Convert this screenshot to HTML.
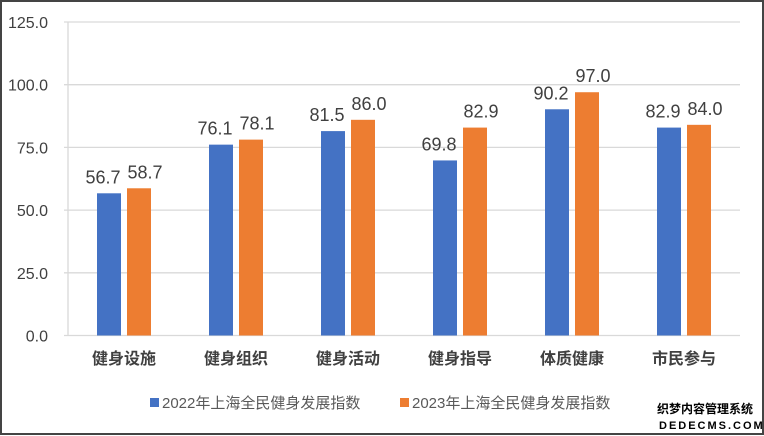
<!DOCTYPE html>
<html><head><meta charset="utf-8"><style>
body{margin:0;background:#fff;}
svg{display:block;font-family:"Liberation Sans","Noto Sans CJK SC",sans-serif;}
</style></head><body>
<svg id="chart" width="764" height="436">
<rect x="1" y="1" width="762" height="433" fill="#fff" stroke="#444" stroke-width="2"/>
<g id="grid"></g><g id="bars"></g><g id="labels"></g>
<g>
<rect x="150" y="398" width="9" height="9" fill="#4472C4"/>
<text x="162" y="408" font-size="15" fill="#595959">2022年上海全民健身发展指数</text>
<rect x="400" y="398" width="9" height="9" fill="#ED7D31"/>
<text x="412" y="408" font-size="15" fill="#595959">2023年上海全民健身发展指数</text>
</g>
<g>
<text x="657" y="413" font-size="12" font-weight="bold" fill="#000">织梦内容管理系统</text>
<text x="659" y="429" font-size="11" font-weight="bold" fill="#000" letter-spacing="2">DEDECMS.COM</text>
</g>
</svg>
<script>
const categories=["健身设施","健身组织","健身活动","健身指导","体质健康","市民参与"];
const values2022=[56.7,76.1,81.5,69.8,90.2,82.9];
const values2023=[58.7,78.1,86.0,82.9,97.0,84.0];
const ticks=[0,25,50,75,100,125];
const NS="http://www.w3.org/2000/svg";
const x0=68,x1=740,y0=335.5,yTop=22,yMax=125;
const y=v=>y0-(y0-yTop)*v/yMax;
const band=(x1-x0)/categories.length;
const cx=i=>x0+band*(i+0.5);
function mk(t,a,p){const e=document.createElementNS(NS,t);for(const k in a)e.setAttribute(k,a[k]);p.appendChild(e);return e;}
const g=document.getElementById('grid'),b=document.getElementById('bars'),l=document.getElementById('labels');
ticks.forEach(t=>{
 const ln=mk('line',{x1:x0-4,x2:x1,y1:y(t),y2:y(t),stroke:'#d9d9d9','stroke-width':1.3},g);
 
 
 const tx=mk('text',{x:48,y:y(t)+6,'font-size':16,fill:'#404040','text-anchor':'end'},g);
 tx.textContent=t.toFixed(1);
 
 
});
const ax=mk('line',{x1:x0,x2:x0,y1:yTop,y2:y0,stroke:'#d9d9d9','stroke-width':1.3},g);


const bw=24,gap=6;
categories.forEach((c,i)=>{
 [[values2022,'#4472C4',-1],[values2023,'#ED7D31',1]].forEach(([arr,col,s],k)=>{
  const v=arr[i];
  const bx=s<0?cx(i)-gap/2-bw:cx(i)+gap/2;
  const r=mk('rect',{x:bx,y:y(v),width:bw,height:y0-y(v),fill:col},b);
  
  
  const t=mk('text',{x:bx+bw/2+(s<0?-6:6),y:y(v)-10,'font-size':18,fill:'#404040','text-anchor':'middle'},l);
  t.textContent=v.toFixed(1);
  
  
 });
 const ct=mk('text',{x:cx(i),y:364,'font-size':16,'font-weight':'bold',fill:'#404040','text-anchor':'middle'},l);
 ct.textContent=c;
 
 
});
</script>
</body></html>
